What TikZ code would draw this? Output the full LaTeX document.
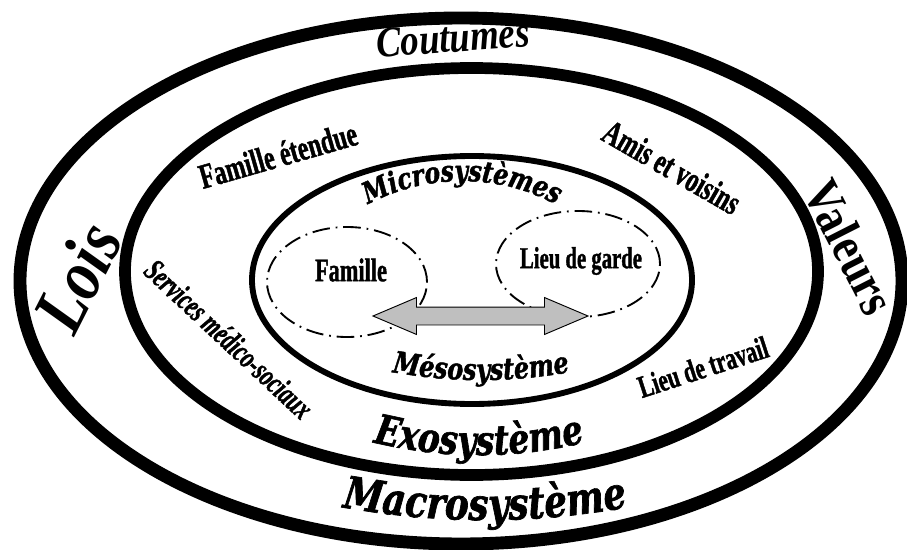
\documentclass[tikz,border=0pt]{standalone}
\usepackage{fontspec}
\setmainfont{Liberation Serif}
\newfontfamily\narrowfont[FakeStretch=0.68, FakeBold=1.2]{Liberation Serif}
\newfontfamily\midfont[FakeStretch=0.85]{Liberation Serif}
\newfontfamily\sysfont[FakeStretch=0.8, FakeBold=1.5]{DejaVu Serif Bold Italic}
\usetikzlibrary{shapes.arrows, decorations.text}
\newcommand{\fsz}[1]{\fontsize{#1}{#1}\selectfont}
\newcommand{\syslabel}[1]{\sysfont\fsz{#1}}
\tikzset{
    % Ring styles
    ring/.style={
        draw=black,
        line width=#1
    },
    subring/.style={
        draw=black,
        line width=1.6pt,
        dash pattern=on 15pt off 5pt on 1.5pt off 5pt
    },
    % Label styles
    place/.style={
        font=\narrowfont\bfseries\fsz{#1},
        inner sep=0pt
    },
    placeit/.style={
        font=\narrowfont\bfseries\itshape\fsz{#1},
        inner sep=0pt
    },
    culture/.style={
        font=\midfont\bfseries\fsz{#1},
        inner sep=0pt
    },
    cultureit/.style={
        font=\midfont\bfseries\itshape\fsz{#1},
        inner sep=0pt
    },
    % Curved system names
    sysname/.style={
        decorate,
        decoration={text along path, text align=center, text={#1}}
    },
    link/.style={
        double arrow,
        draw=black,
        fill=gray!50,
        line width=0.8pt,
        minimum height=6.45cm,
        inner xsep=0pt,
        inner ysep=0.255cm,
        double arrow head extend=0.285cm,
        double arrow tip angle=46
    }
}
\begin{document}
\begin{tikzpicture}[x=0.03cm, y=0.03cm]
    \useasboundingbox (0,0) rectangle (907,549);

    % Rings
    \draw[ring=11pt] (461,268) ellipse [x radius=441, y radius=263];
    \draw[ring=10pt] (471.5,277.5) ellipse [x radius=346.5, y radius=203.5];
    \draw[ring=5pt] (472,269) ellipse [x radius=220, y radius=124];
    \draw[subring] (347,267) ellipse [x radius=80, y radius=55];
    \draw[subring] (578,285) ellipse [x radius=82, y radius=53];

    \node[link] (meso) at (480.5,233) {};

    % Places
    \node[place=28pt] (famille) at (351,279) {Famille};
    \node[place=26pt] (garde) at (581,288) {Lieu de garde};
    \node[place=30pt, rotate=16] (famext) at (278,394) {Famille étendue};
    \node[place=30pt, rotate=-30] (amis) at (672,382) {Amis et voisins};
    \node[placeit=27pt, rotate=-43] (services) at (229,210) {Services médico-sociaux};
    \node[place=27pt, rotate=18] (travail) at (703,182) {Lieu de travail};

    % Macro level
    \node[cultureit=37pt, rotate=4] (coutumes) at (453,511) {Coutumes};
    \node[cultureit=62pt, rotate=63] (lois) at (77,272) {Lois};
    \node[culture=44pt, rotate=-63] (valeurs) at (850,302) {Valeurs};

    % System names
    \path[sysname={|\syslabel{25pt}|Microsystèmes}]
        (462,168) ++(145:200) arc[start angle=145, end angle=35, radius=200];
    \path[sysname={|\syslabel{25.5pt}|Mésosystème}]
        (481,669) ++(250:500) arc[start angle=250, end angle=290, radius=500];
    \path[sysname={|\syslabel{35pt}|Exosystème}]
        (479,544) ++(250:450) arc[start angle=250, end angle=290, radius=450];
    \path[sysname={|\syslabel{38pt}|Macrosystème}]
        (485,829) ++(255:800) arc[start angle=255, end angle=285, radius=800];
\end{tikzpicture}
\end{document}
